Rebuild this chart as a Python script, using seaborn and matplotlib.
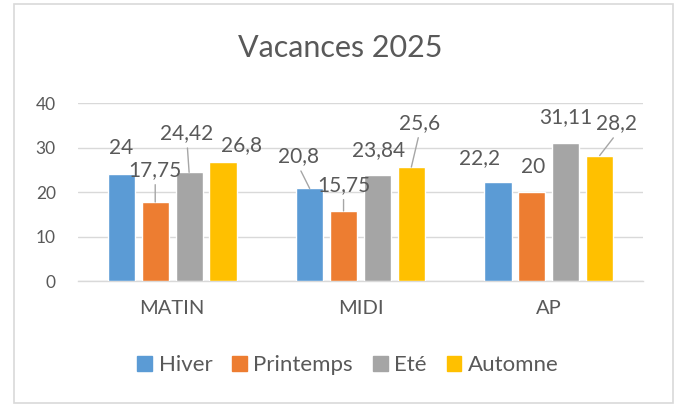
"""
Vacances 2025 - grouped bar chart with data labels
"""

import matplotlib
matplotlib.use('Agg')
import matplotlib.pyplot as plt
from matplotlib.patches import Rectangle
import seaborn as sns
import pandas as pd

# Data
categories = ['MATIN', 'MIDI', 'AP']
seasons = ['Hiver', 'Printemps', 'Eté', 'Automne']
hiver = [24, 20.8, 22.2]
printemps = [17.75, 15.75, 20]
ete = [24.42, 23.84, 31.11]
automne = [26.8, 25.6, 28.2]
yticks = [0, 10, 20, 30, 40]

colors = ['#5B9BD5', '#ED7D31', '#A5A5A5', '#FFC000']
TEXT = '#595959'

# label offsets from the bar top (pixels) and whether Excel drew a leader line
label_offsets = {
    'Hiver': [(0, 26), (-11, 32), (-18, 24)],
    'Printemps': [(0, 32), (0, 26), (1, 25)],
    'Eté': [(-2, 39), (1, 25), (0, 25)],
    'Automne': [(18, 17), (8, 44), (17, 32)],
}
leaders = {
    'Hiver': [False, True, False],
    'Printemps': [True, True, False],
    'Eté': [True, False, False],
    'Automne': [False, True, True],
}

rows = []
for season, vals in zip(seasons, [hiver, printemps, ete, automne]):
    for cat, v in zip(categories, vals):
        rows.append({'moment': cat, 'saison': season, 'valeur': v})
df = pd.DataFrame(rows)

sns.set_style('white')
plt.rcParams['font.family'] = ['Lato', 'DejaVu Sans']

fig = plt.figure(figsize=(6.79, 4.05), dpi=100)
ax = fig.add_axes([78 / 679, 1 - 281 / 405, (643 - 78) / 679, (281 - 103) / 405])

sns.barplot(data=df, x='moment', y='valeur', hue='saison', order=categories,
            hue_order=seasons, palette=colors, width=0.72, gap=0.2,
            saturation=1, ax=ax, legend=True, zorder=3)

ax.set_ylim(0, 40)
ax.set_yticks(yticks)
ax.set_yticklabels([str(t) for t in yticks])
ax.set_xlabel('')
ax.set_ylabel('')
ax.grid(axis='y', color='#D9D9D9', linewidth=1, zorder=0)
ax.set_axisbelow(True)
for s in ['top', 'right', 'left']:
    ax.spines[s].set_visible(False)
ax.spines['bottom'].set_color('#D9D9D9')
ax.spines['bottom'].set_linewidth(1)
ax.tick_params(axis='y', length=0, pad=16, labelsize=12.5, labelcolor=TEXT)
ax.tick_params(axis='x', length=0, pad=14, labelsize=14.5, labelcolor=TEXT)

# data labels
for container, season in zip(ax.containers, seasons):
    for i, bar in enumerate(container.patches):
        h = bar.get_height()
        x = bar.get_x() + bar.get_width() / 2
        dx, dy = label_offsets[season][i]
        lab = f'{h:g}'.replace('.', ',')
        kw = {}
        if leaders[season][i]:
            kw['arrowprops'] = dict(arrowstyle='-', color='#A6A6A6', lw=1,
                                    shrinkA=1, shrinkB=0, relpos=(0.5, 0.0))
        ax.annotate(lab, xy=(x, h), xytext=(dx, dy), textcoords='offset pixels',
                    ha='center', va='center', fontsize=15, color=TEXT, **kw)

ax.get_legend().remove()
handles = [Rectangle((0, 0), 1, 1, color=c) for c in colors]
fig.legend(handles, seasons, loc='center', bbox_to_anchor=(348 / 679, 1 - 365 / 405),
           ncol=4, frameon=False, fontsize=16, handlelength=0.65, handleheight=0.65,
           handletextpad=0.3, columnspacing=0.9, labelcolor=TEXT)

fig.text(340 / 679, 1 - 48 / 405, 'Vacances 2025', ha='center', va='center',
         fontsize=22, color=TEXT)

# chart border
fig.patches.append(Rectangle((14 / 679, 1 - 403 / 405), (673 - 14) / 679, (403 - 4) / 405,
                             transform=fig.transFigure, fill=False,
                             edgecolor='#D9D9D9', linewidth=1.2))

plt.savefig('out.png', dpi=100)
plt.close()
